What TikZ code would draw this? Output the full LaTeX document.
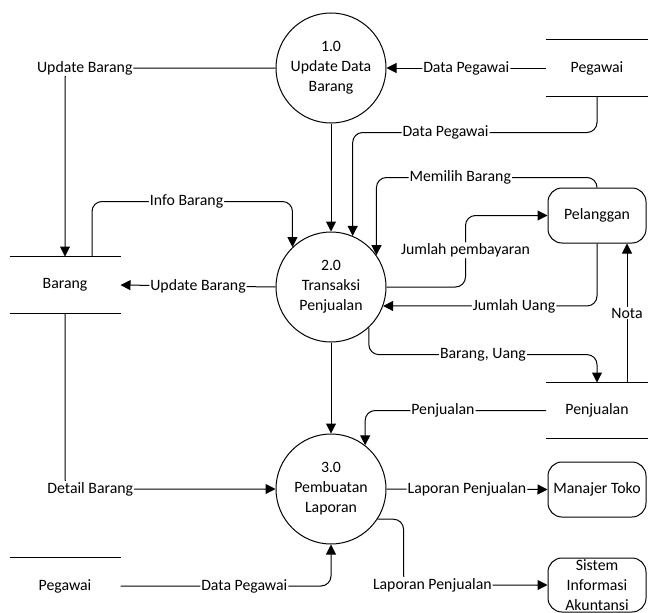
\documentclass[tikz,border=0pt]{standalone}
\usepackage{fontspec}
\setmainfont{Carlito}
\usetikzlibrary{arrows.meta}

\begin{document}
\begin{tikzpicture}[x=1pt, y=-1pt, line width=1pt,
  font=\fontsize{15.8}{20}\selectfont,
  proc/.style={circle, draw, minimum size=110pt, inner sep=0pt, align=center},
  store/.style={minimum height=56pt, inner sep=0pt},
  entity/.style={draw, rounded corners=14pt, minimum width=98pt, minimum height=55pt, inner sep=1pt, align=center},
  flow/.style={-{Triangle[length=10pt,width=10pt]}, rounded corners=10pt},
  lbl/.style={fill=white, inner sep=1pt}]

\useasboundingbox (0,0) rectangle (648,613);

% processes
\node[proc] (p1) at (331,68) {1.0\\Update Data\\Barang};
\node[proc] (p2) at (331,287) {2.0\\Transaksi\\Penjualan};
\node[proc] (p3) at (331,489) {3.0\\Pembuatan\\Laporan};

% data stores
\node[store, minimum width=101pt] (pegawai) at (597,68) {Pegawai};
\node[store, minimum width=110pt] (barang) at (65,285) {Barang};
\node[store, minimum width=101pt, minimum height=55pt] (penjualan) at (597,410.5) {Penjualan};
\node[store, minimum width=110pt] (pegawaib) at (65,586) {Pegawai};

\draw (pegawai.north west) -- (pegawai.north east)
      (pegawai.south west) -- (pegawai.south east)
      (barang.north west) -- (barang.north east)
      (barang.south west) -- (barang.south east)
      (penjualan.north west) -- (penjualan.north east)
      (penjualan.south west) -- (penjualan.south east)
      (pegawaib.north west) -- (pegawaib.north east);

% external entities
\node[entity] (pelanggan) at (597,215.5) {Pelanggan};
\node[entity] (manajer) at (597,489.5) {Manajer Toko};
\node[entity, minimum height=54pt] (sia) at (597,585) {Sistem\\Informasi\\Akuntansi};

% flows
\draw[flow] (p1.west) -| (barang.north) node[lbl, pos=0.453] {Update Barang};
\draw[flow] (pegawai.west) -- (p1.east) node[lbl, pos=0.5] {Data Pegawai};
\draw[flow] (pegawai.south) -- ++(0,36) -| (p2.67) node[lbl, pos=0.31] {Data Pegawai};
\draw[flow] (p1) -- (p2);
\draw[flow] ([xshift=27pt]barang.north) -- ++(0,-55) -| (p2.134) node[lbl, pos=0.236] {Info Barang};
\draw[flow] (p2.west) -- (barang.east) node[lbl, pos=0.5] {Update Barang};
\draw[flow] (pelanggan.north) -- ++(0,-10) -| (p2.35) node[lbl, pos=0.31] {Memilih Barang};
\draw[flow] (p2.east) -- ++(79,0) |- (pelanggan.west) node[lbl, pos=0.257] {Jumlah pembayaran};
\draw[flow] (pelanggan.south) |- (p2.-20) node[lbl, pos=0.694] {Jumlah Uang};
\draw[flow] ([xshift=30pt]penjualan.north) -- ([xshift=30pt]pelanggan.south) node[lbl, pos=0.5] {Nota};
\draw[flow] (p2.-47) -- ++(0,27) -| (penjualan.north) node[lbl, pos=0.25] {Barang, Uang};
\draw[flow] (p2) -- (p3);
\draw[flow] (penjualan.west) -| (p3.52) node[lbl, pos=0.285] {Penjualan};
\draw[flow] (barang.south) |- (p3.west) node[lbl, pos=0.56] {Detail Barang};
\draw[flow] (p3.east) -- (manajer.west) node[lbl, pos=0.5] {Laporan Penjualan};
\draw[flow] (p3.-33) -- ++(26,0) |- (sia.west) node[lbl, pos=0.6] {Laporan Penjualan};
\draw[flow] (pegawaib.east) -| (p3.south) node[lbl, pos=0.294] {Data Pegawai};

\end{tikzpicture}
\end{document}
